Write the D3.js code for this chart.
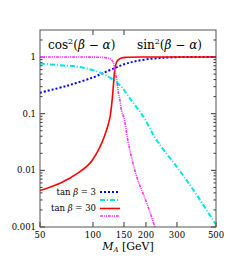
<!DOCTYPE html>
<html><head><meta charset="UTF-8">
<script src="https://d3js.org/d3.v7.min.js"></script>
<style>
body { margin: 0; background: #fff; }
svg text { font-family: "DejaVu Serif", "Liberation Serif", serif; fill: #000; }
</style>
</head>
<body>
<div id="body"></div>
<script>

var w = 248, h = 279;
var pLeft = 40, pRight = 216, pTop = 30, pBottom = 227;

// tan beta = 3
var massT3 = [50, 71, 100.5, 125, 155.5, 202, 285, 500];
var sin2T3 = [0.235, 0.31, 0.44, 0.59, 0.77, 0.91, 0.99, 1];
var massT3c = [50, 63.3, 82.2, 106.8, 127, 145, 161.7, 193, 230, 299, 372, 500];
var cos2T3 = [0.77, 0.72, 0.675, 0.55, 0.42, 0.30, 0.187, 0.089, 0.034, 0.0116, 0.0045, 0.0011];

// tan beta = 30
var massT30 = [50, 65, 84.4, 96.2, 109.6, 119.6, 124.8, 128.5, 131, 133, 136, 139, 145, 156, 200, 300, 500];
var sin2T30 = [0.0044, 0.0059, 0.0095, 0.0134, 0.026, 0.052, 0.085, 0.175, 0.35, 0.6, 0.8, 0.89, 0.96, 0.99, 1, 1, 1];
var massT30c = [50, 80, 100, 116, 124, 130, 133.5, 136.5, 139.3, 142.4, 145.6, 150, 159, 177, 202, 225, 235];
var cos2T30 = [1, 1, 0.995, 0.98, 0.94, 0.82, 0.55, 0.4, 0.24, 0.17, 0.11, 0.085, 0.030, 0.0078, 0.00266, 0.001, 0.0007];

var xTicks = [50, 100, 150, 200, 300, 500];
var xTopTicks = [100, 150];
var yTicks = [1, 0.1, 0.01, 0.001];
var yTickLabels = ["1", "0.1", "0.01", "0.001"];

var series = [
  {m: massT3, v: sin2T3, color: "#0000ff", width: 2, dash: "2,2"},
  {m: massT3c, v: cos2T3, color: "#00e5e5", width: 2, dash: "5,2,1,2"},
  {m: massT30, v: sin2T30, color: "#ff0000", width: 1.6, dash: null},
  {m: massT30c, v: cos2T30, color: "#ff33ff", width: 1.6, dash: "3,1,1,1,1,1"}
];

var x = d3.scaleLog().domain([50, 500]).range([pLeft, pRight]);
var y = d3.scaleLog().domain([0.001, 3]).range([pBottom, pTop]);

var svg = d3.select("#body").append("svg")
    .attr("width", w)
    .attr("height", h);

svg.append("clipPath").attr("id", "clip")
  .append("rect")
    .attr("x", pLeft).attr("y", pTop)
    .attr("width", pRight - pLeft).attr("height", pBottom - pTop);

// minor + major ticks on y, both sides
var yMinor = [];
[0.001, 0.01, 0.1, 1].forEach(function(d) {
  for (var k = 2; k <= 9; k++) if (d * k < 3) yMinor.push(d * k);
});

var ticks = svg.append("g").attr("stroke", "#000").attr("stroke-width", 0.8);
yMinor.forEach(function(v) {
  ticks.append("line").attr("x1", pLeft).attr("x2", pLeft + 2.5).attr("y1", y(v)).attr("y2", y(v));
  ticks.append("line").attr("x1", pRight).attr("x2", pRight - 2.5).attr("y1", y(v)).attr("y2", y(v));
});
yTicks.forEach(function(v) {
  ticks.append("line").attr("x1", pLeft).attr("x2", pLeft + 5).attr("y1", y(v)).attr("y2", y(v));
  ticks.append("line").attr("x1", pRight).attr("x2", pRight - 5).attr("y1", y(v)).attr("y2", y(v));
});
xTicks.forEach(function(v) {
  ticks.append("line").attr("x1", x(v)).attr("x2", x(v)).attr("y1", pBottom).attr("y2", pBottom - 5);
});
xTopTicks.forEach(function(v) {
  ticks.append("line").attr("x1", x(v)).attr("x2", x(v)).attr("y1", pTop).attr("y2", pTop + 5);
});

// curves
var line = d3.line()
    .x(function(d) { return x(d[0]); })
    .y(function(d) { return y(d[1]); })
    .curve(d3.curveCatmullRom.alpha(0.5));

svg.append("g").attr("clip-path", "url(#clip)")
  .selectAll("path")
  .data(series)
  .enter().append("path")
    .attr("d", function(s) { return line(s.m.map(function(m, i) { return [m, s.v[i]]; })); })
    .attr("fill", "none")
    .attr("stroke", function(s) { return s.color; })
    .attr("stroke-width", function(s) { return s.width; })
    .attr("stroke-dasharray", function(s) { return s.dash; });

// frame
svg.append("rect")
    .attr("x", pLeft).attr("y", pTop)
    .attr("width", pRight - pLeft).attr("height", pBottom - pTop)
    .attr("fill", "none").attr("stroke", "#555").attr("stroke-width", 1);

// tick labels
svg.selectAll(".ylab")
  .data(yTicks)
  .enter().append("text")
    .attr("x", pLeft - 4)
    .attr("y", function(d) { return y(d); })
    .attr("dy", "0.35em")
    .attr("text-anchor", "end")
    .style("font-size", "8.5px")
    .text(function(d, i) { return yTickLabels[i]; });

svg.selectAll(".xlab")
  .data(xTicks)
  .enter().append("text")
    .attr("x", function(d) { return x(d); })
    .attr("y", pBottom + 11)
    .attr("text-anchor", "middle")
    .style("font-size", "8.5px")
    .text(function(d) { return d; });

// axis title
var xt = svg.append("text")
    .attr("x", 128).attr("y", 250)
    .attr("text-anchor", "middle")
    .style("font-size", "11px");
xt.append("tspan").style("font-style", "italic").text("M");
xt.append("tspan").attr("dy", 2).style("font-size", "7px").style("font-style", "italic").text("A");
xt.append("tspan").attr("dy", -2).text(" [GeV]");

// panel labels
function angleLabel(fn, xPos) {
  var t = svg.append("text").attr("x", xPos).attr("y", 49).style("font-size", "12px");
  t.append("tspan").text(fn);
  t.append("tspan").attr("dy", -5).style("font-size", "8px").text("2");
  t.append("tspan").attr("dy", 5).text("(");
  t.append("tspan").style("font-style", "italic").text("β");
  t.append("tspan").text(" − ");
  t.append("tspan").style("font-style", "italic").text("α");
  t.append("tspan").text(")");
}
angleLabel("cos", 48);
angleLabel("sin", 137);

// legend
var legend = [
  {label: "tan β = 3", yPos: 192, s: series[0]},
  {label: "", yPos: 200, s: series[1]},
  {label: "tan β = 30", yPos: 208.5, s: series[2]},
  {label: "", yPos: 216, s: series[3]}
];
legend.forEach(function(l) {
  svg.append("line")
      .attr("x1", 100).attr("x2", 120)
      .attr("y1", l.yPos).attr("y2", l.yPos)
      .attr("stroke", l.s.color)
      .attr("stroke-width", l.s.width)
      .attr("stroke-dasharray", l.s.dash);
  if (l.label) {
    var t = svg.append("text")
        .attr("x", 96).attr("y", l.yPos)
        .attr("dy", "0.35em")
        .attr("text-anchor", "end")
        .style("font-size", "8.5px");
    t.append("tspan").text("tan ");
    t.append("tspan").style("font-style", "italic").text("β");
    t.append("tspan").text(l.label.slice(5));
  }
});

</script>
</body></html>
